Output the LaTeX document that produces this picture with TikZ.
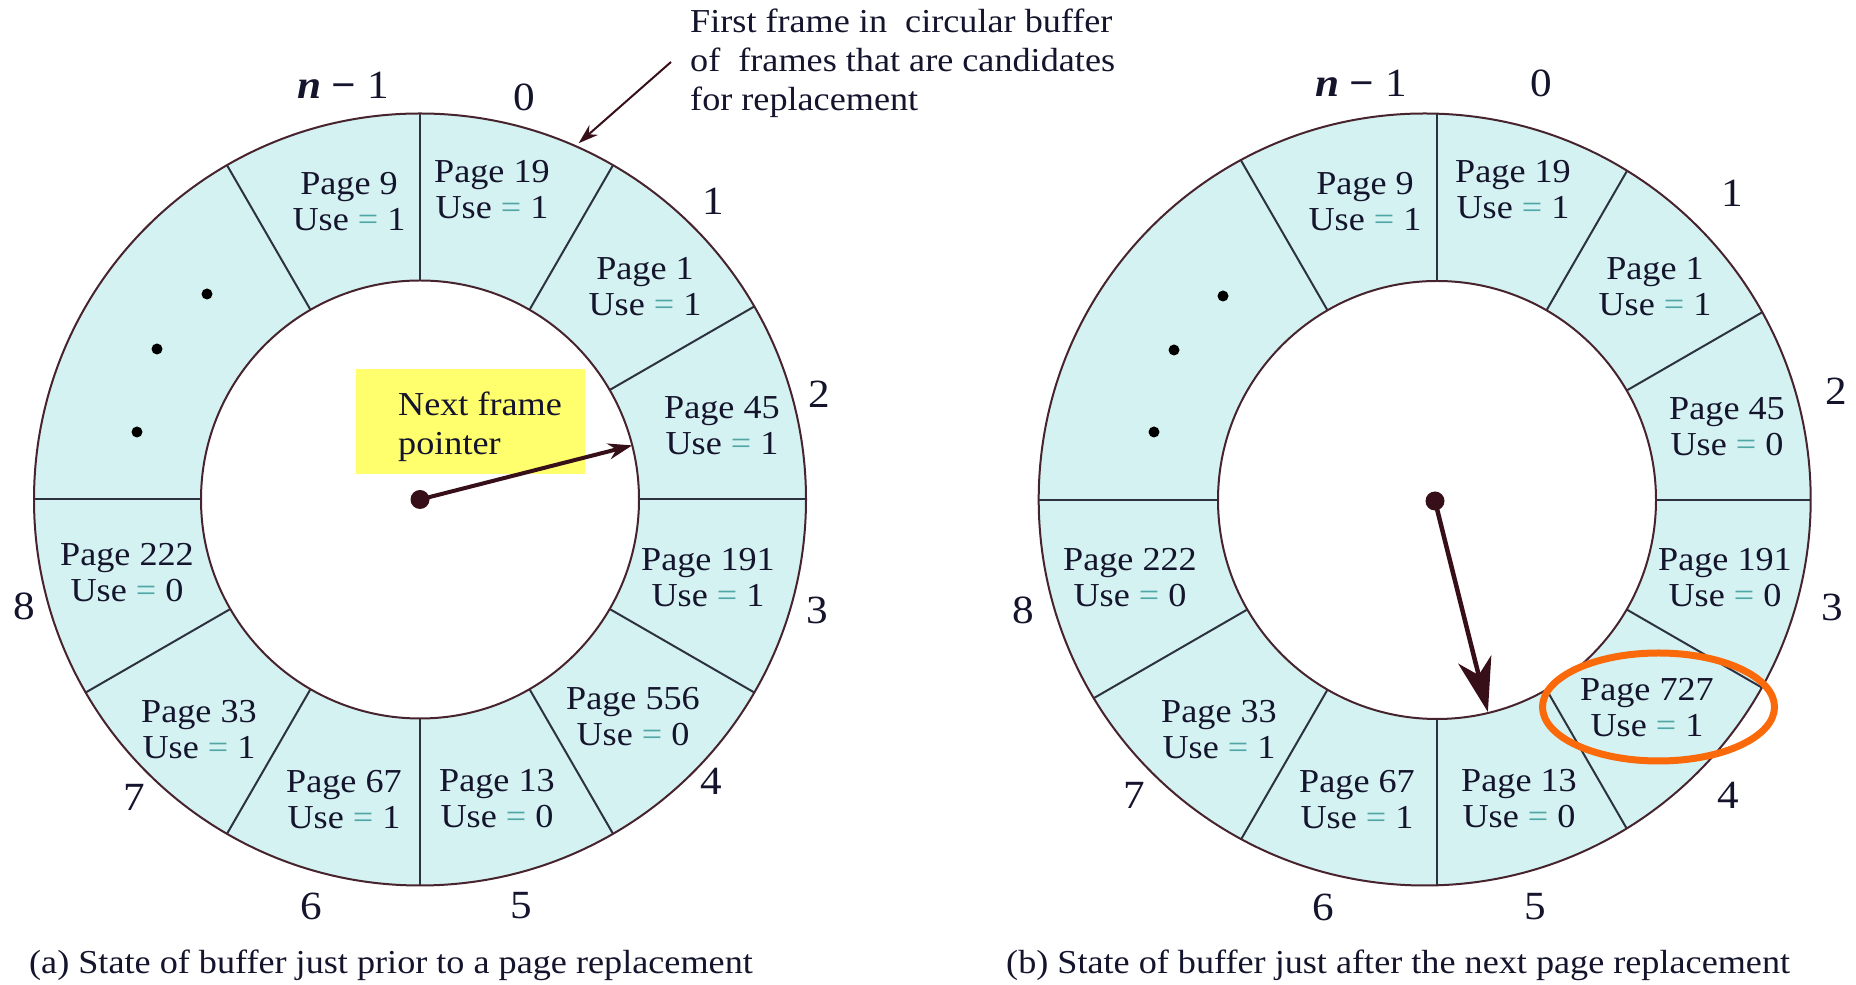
\documentclass[tikz,border=0pt]{standalone}
\usepackage{fontspec}
\setmainfont{Liberation Serif}[FakeStretch=1.08]
\usetikzlibrary{arrows.meta}
\definecolor{ringfill}{RGB}{213,242,242}
\definecolor{eqcol}{RGB}{80,165,165}
\definecolor{segcol}{RGB}{45,50,65}
\definecolor{circcol}{RGB}{70,35,45}
\definecolor{arrcol}{RGB}{55,15,25}
\definecolor{ybox}{RGB}{255,255,110}
\definecolor{hl}{RGB}{250,105,10}
\definecolor{txt}{RGB}{20,20,45}
\newcommand\usev[1]{Use {\color{eqcol}=} #1}
\begin{document}
\begin{tikzpicture}[x=1pt,y=1pt, text=txt,
  seg/.style={draw=segcol, line width=2pt},
  circ/.style={draw=circcol, line width=2pt},
  pg/.style={align=center, inner sep=0pt, font=\fontsize{33.5}{36}\selectfont},
  num/.style={inner sep=0pt, font=\fontsize{40}{44}\selectfont},
  captxt/.style={inner sep=0pt, anchor=base west, font=\fontsize{33.5}{36}\selectfont},
  dotn/.style={circle, fill=arrcol, inner sep=0pt, minimum size=19pt},
  smalldot/.style={circle, fill=black, inner sep=0pt, minimum size=11pt},
  ptrL/.style={draw=arrcol, line width=4pt, -{Stealth[length=24pt,width=16pt]}},
  ptrR/.style={draw=arrcol, line width=4.5pt, -{Stealth[length=54pt,width=34pt,inset=16pt]}},
  note/.style={draw=arrcol, line width=2pt, -{Stealth[length=20pt,width=13pt]}}
]
\useasboundingbox (0,0) rectangle (1856,985);

% ---------- left ring ----------
\coordinate (LO) at (420,485.5);
\coordinate (LI) at (420,485.5);
\fill[ringfill, even odd rule] (LO) circle[radius=386] (LI) circle[radius=219];
\begin{scope}
  \clip (LO) circle[radius=386];
  \foreach \a in {90,60,30,0,-30,-60,-90,-120,-150,180,120}
    \draw[seg] ([shift={(\a:219)}]LI) -- ([shift={(\a:420)}]LI);
\end{scope}
\draw[circ] (LO) circle[radius=386];
\draw[circ] (LI) circle[radius=219];

% ---------- right ring ----------
\coordinate (RO) at (1424.7,485.5);
\coordinate (RI) at (1437,485);
\fill[ringfill, even odd rule] (RO) circle[radius=386] (RI) circle[radius=219];
\begin{scope}
  \clip (RO) circle[radius=386];
  \foreach \a in {90,60,30,0,-30,-60,-90,-120,-150,180,120}
    \draw[seg] ([shift={(\a:219)}]RI) -- ([shift={(\a:420)}]RI);
\end{scope}
\draw[circ] (RO) circle[radius=386];
\draw[circ] (RI) circle[radius=219];

% ---------- left page texts ----------
\node[pg] (L9)   at (349,783) {Page 9\\\usev{1}};
\node[pg] (L19)  at (492,795) {Page 19\\\usev{1}};
\node[pg] (L1)   at (645,698) {Page 1\\\usev{1}};
\node[pg] (L45)  at (722,559) {Page 45\\\usev{1}};
\node[pg] (L191) at (708,407) {Page 191\\\usev{1}};
\node[pg] (L556) at (633,268) {Page 556\\\usev{0}};
\node[pg] (L13)  at (497,186) {Page 13\\\usev{0}};
\node[pg] (L67)  at (344,185) {Page 67\\\usev{1}};
\node[pg] (L33)  at (199,255) {Page 33\\\usev{1}};
\node[pg] (L222) at (127,412) {Page 222\\\usev{0}};
\node[smalldot] (Ld1) at (207,691) {};
\node[smalldot] (Ld2) at (157,636) {};
\node[smalldot] (Ld3) at (137,553) {};

% ---------- right page texts ----------
\node[pg] (R9)   at (1365,783) {Page 9\\\usev{1}};
\node[pg] (R19)  at (1513,795) {Page 19\\\usev{1}};
\node[pg] (R1)   at (1655,698) {Page 1\\\usev{1}};
\node[pg] (R45)  at (1727,558) {Page 45\\\usev{0}};
\node[pg] (R191) at (1725,407) {Page 191\\\usev{0}};
\node[pg] (R727) at (1647,277) {Page 727\\\usev{1}};
\node[pg] (R13)  at (1519,186) {Page 13\\\usev{0}};
\node[pg] (R67)  at (1357,185) {Page 67\\\usev{1}};
\node[pg] (R33)  at (1219,255) {Page 33\\\usev{1}};
\node[pg] (R222) at (1130,407) {Page 222\\\usev{0}};
\node[smalldot] (Rd1) at (1223,689) {};
\node[smalldot] (Rd2) at (1174,635) {};
\node[smalldot] (Rd3) at (1154,553) {};

% ---------- left frame numbers ----------
\node[num] (Lnm) at (343,900) {{\bfseries\itshape n} {\bfseries −} 1};
\node[num] (Ln0) at (524,888) {0};
\node[num] (Ln1) at (713,784) {1};
\node[num] (Ln2) at (819,591) {2};
\node[num] (Ln3) at (817,375) {3};
\node[num] (Ln4) at (711,204) {4};
\node[num] (Ln5) at (521,79) {5};
\node[num] (Ln6) at (311,79) {6};
\node[num] (Ln7) at (134,188) {7};
\node[num] (Ln8) at (24,379) {8};

% ---------- right frame numbers ----------
\node[num] (Rnm) at (1361,902) {{\bfseries\itshape n} {\bfseries −} 1};
\node[num] (Rn0) at (1541,902) {0};
\node[num] (Rn1) at (1732,792) {1};
\node[num] (Rn2) at (1836,594) {2};
\node[num] (Rn3) at (1832,378) {3};
\node[num] (Rn4) at (1728,190) {4};
\node[num] (Rn5) at (1535,78) {5};
\node[num] (Rn6) at (1323,78) {6};
\node[num] (Rn7) at (1134,190) {7};
\node[num] (Rn8) at (1023,375) {8};

% ---------- next frame pointer (left) ----------
\node[fill=ybox, inner sep=0pt, minimum width=229pt, minimum height=105pt, anchor=south west] (ybx) at (356,511) {};
\node[anchor=north west, align=left, inner sep=0pt, font=\fontsize{33.5}{39}\selectfont] (ytx) at (398,593) {Next frame\\pointer};
\node[dotn] (Lc) at (LI) {};
\coordinate (Lt) at ([shift={(14.3:219)}]LI);
\draw[ptrL] (Lc.center) -- (Lt);

% ---------- pointer (right) ----------
\node[dotn] (Rc) at (1435,484) {};
\coordinate (Rt) at ([shift={(-76.5:218)}]RI);
\draw[ptrR] (Rc.center) -- (Rt);

% ---------- highlight ----------
\draw[hl, line width=7pt] (1658.5,278) ellipse[x radius=116, y radius=54];

% ---------- annotation ----------
\node[anchor=north west, align=left, inner sep=0pt, font=\fontsize{33.5}{39}\selectfont] (ann) at (690,976)
  {First frame in\ \ circular buffer\\of\ \ frames that are candidates\\for replacement};
\coordinate (a1) at (671,923);
\coordinate (a2) at ([shift={(66:390)}]LO);
\draw[note] (a1) -- (a2);

% ---------- captions ----------
\node[captxt] (capa) at (29,11) {(a) State of buffer just prior to a page replacement};
\node[captxt] (capb) at (1006,11) {(b) State of buffer just after the next page replacement};
\end{tikzpicture}
\end{document}
